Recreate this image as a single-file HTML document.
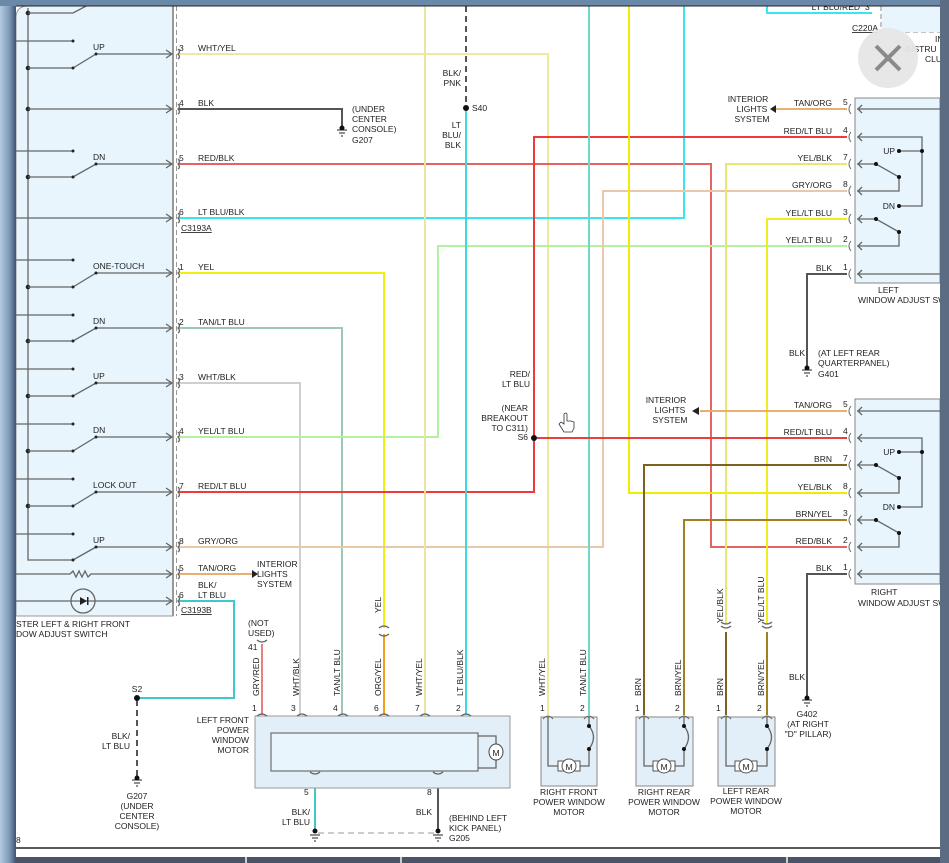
<!DOCTYPE html>
<html><head><meta charset="utf-8"><style>
html,body{margin:0;padding:0;background:#fff;}
svg{display:block;}
text{font-family:"Liberation Sans",Arial,sans-serif;font-size:8.5px;fill:#222;}
.r{text-anchor:end}.m{text-anchor:middle}
.w{fill:none;stroke-width:2}
.g{stroke:#666;stroke-width:1.3;fill:none}
</style></head><body>
<svg width="949" height="863" viewBox="0 0 949 863" xmlns="http://www.w3.org/2000/svg">
<defs>
<linearGradient id="lg" x1="0" x2="1"><stop offset="0" stop-color="#b4cce2"/><stop offset="0.6" stop-color="#7c98b6"/><stop offset="1" stop-color="#3e5470"/></linearGradient>
</defs>
<rect width="949" height="863" fill="#fff"/>
<!-- left switch box -->
<path d="M16,18 Q16,6 28,6 L173,6 L173,616 L16,616 Z" fill="#e8f5fd" stroke="#999"/>
<line x1="173" y1="6" x2="173" y2="616" stroke="#999" stroke-width="2"/>
<line x1="176.5" y1="6" x2="176.5" y2="616" stroke="#999" stroke-dasharray="5,3"/>
<!-- bus -->
<path class="g" d="M28,8 V560 H73"/>
<g fill="#222">
<circle cx="28" cy="13" r="2.3"/><circle cx="28" cy="68" r="2.3"/><circle cx="28" cy="109" r="2.3"/><circle cx="28" cy="177" r="2.3"/><circle cx="28" cy="287" r="2.3"/><circle cx="28" cy="341" r="2.3"/><circle cx="28" cy="396" r="2.3"/><circle cx="28" cy="451" r="2.3"/><circle cx="28" cy="506" r="2.3"/>
</g>
<!-- switch rows -->
<g class="g">
<path d="M28,13 H73 L90,4"/>
<path d="M16,41 H73 M28,68 H73 L96,54 H172 M166,50 L172,54 L166,58"/>
<path d="M28,109 H172 M166,105 L172,109 L166,113"/>
<path d="M16,151 H73 M28,177 H73 L96,164 H172 M166,160 L172,164 L166,168"/>
<path d="M16,218 H172 M166,214 L172,218 L166,222"/>
<path d="M16,260 H73 M28,287 H73 L96,273 H172 M166,269 L172,273 L166,277"/>
<path d="M16,315 H73 M28,341 H73 L96,328 H172 M166,324 L172,328 L166,332"/>
<path d="M16,369 H73 M28,396 H73 L96,383 H172 M166,379 L172,383 L166,387"/>
<path d="M16,424 H73 M28,451 H73 L96,437 H172 M166,433 L172,437 L166,441"/>
<path d="M16,479 H73 M28,506 H73 L96,492 H172 M166,488 L172,492 L166,496"/>
<path d="M16,534 H73 M96,547 H172 M73,560 L96,547 M166,543 L172,547 L166,551"/>
<path d="M16,574 H70 l3,-3 l3,6 l3,-6 l3,6 l3,-6 l3,6 l3,-3 H172 M166,570 L172,574 L166,578"/>
<path d="M16,601 H172 M166,597 L172,601 L166,605"/>
<circle cx="83" cy="601" r="12"/>
</g>
<g fill="#222"><circle cx="73" cy="41" r="1.5"/><circle cx="73" cy="68" r="1.5"/><circle cx="96" cy="54" r="1.5"/><circle cx="73" cy="151" r="1.5"/><circle cx="73" cy="177" r="1.5"/><circle cx="96" cy="164" r="1.5"/><circle cx="73" cy="260" r="1.5"/><circle cx="73" cy="287" r="1.5"/><circle cx="96" cy="273" r="1.5"/><circle cx="73" cy="315" r="1.5"/><circle cx="73" cy="341" r="1.5"/><circle cx="96" cy="328" r="1.5"/><circle cx="73" cy="369" r="1.5"/><circle cx="73" cy="396" r="1.5"/><circle cx="96" cy="383" r="1.5"/><circle cx="73" cy="424" r="1.5"/><circle cx="73" cy="451" r="1.5"/><circle cx="96" cy="437" r="1.5"/><circle cx="73" cy="479" r="1.5"/><circle cx="73" cy="506" r="1.5"/><circle cx="96" cy="492" r="1.5"/><circle cx="73" cy="534" r="1.5"/><circle cx="73" cy="560" r="1.5"/><circle cx="96" cy="547" r="1.5"/>
<path d="M80,597 L87,601 L80,605 Z"/><rect x="87" y="597" width="1.5" height="8"/></g>
<text x="93" y="50">UP</text><text x="93" y="160">DN</text><text x="93" y="269">ONE-TOUCH</text><text x="93" y="324">DN</text><text x="93" y="379">UP</text><text x="93" y="433">DN</text><text x="93" y="488">LOCK OUT</text><text x="93" y="543">UP</text>
<text x="16" y="627">STER LEFT &amp; RIGHT FRONT</text><text x="16" y="637">DOW ADJUST SWITCH</text>

<!-- wires -->
<g class="w">
<path stroke="#eeea9c" d="M178,54 H548 V715"/>
<path stroke="#555" d="M178,109 H342 V128"/>
<path stroke="#e46464" d="M178,164 H711 V547 H847"/>
<path stroke="#3ae6ee" d="M178,218 H684 V6"/>
<path stroke="#f2ee10" d="M178,273 H384 V628"/>
<path stroke="#f0a020" d="M384,634 V715"/>
<path stroke="#9cc8b4" d="M178,328 H342 V715"/>
<path stroke="#cfcfcf" d="M178,383 H300 V715"/>
<path stroke="#b4f0a0" d="M178,437 H438 V246 H847"/>
<path stroke="#f03a3a" d="M178,492 H534 V137 H847"/>
<path stroke="#e8c8a8" d="M178,547 H603 V191 H847"/>
<path stroke="#e8b070" d="M178,574 H252"/>
<path stroke="#40c8c8" d="M178,601 H234 V698 H140"/>
<path stroke="#e8e6a0" d="M425,6 V715"/>
<path stroke="#3ed8e0" d="M466,110 V715"/>
<path stroke="#70d8c8" d="M589,6 V715"/>
<path stroke="#f0ec00" d="M629,6 V493 H847"/>
<path stroke="#e8b070" d="M775,109 H847"/>
<path stroke="#e6e670" d="M847,164 H726 V624"/>
<path stroke="#f0ec20" d="M847,219 H767 V624"/>
<path stroke="#555" d="M847,274 H807 V368"/>
<path stroke="#e8b070" d="M700,411 H847"/>
<path stroke="#e84040" d="M537,438 H847"/>
<path stroke="#806020" d="M847,465 H644 V715"/>
<path stroke="#a08020" d="M847,520 H684 V715"/>
<path stroke="#555" d="M847,574 H807 V698"/>
<path stroke="#806020" d="M726,632 V715"/>
<path stroke="#a08020" d="M767,632 V715"/>
<path stroke="#e88080" d="M262,644 V715"/>
<path stroke="#3ae6ee" d="M767,0 V13 H872"/>
<path stroke="#40c8c8" d="M315,772 V830"/>
<path stroke="#555" d="M438,772 V830"/>
</g>
<line x1="466" y1="6" x2="466" y2="106" stroke="#555" stroke-width="2" stroke-dasharray="6,4"/>
<line x1="137" y1="700" x2="137" y2="778" stroke="#555" stroke-width="2" stroke-dasharray="6,4"/>
<line x1="318" y1="833" x2="435" y2="833" stroke="#999" stroke-dasharray="6,4"/>
<!-- arrows -->
<path d="M252,570 L258,574 L252,578 Z M770,109 L776,105 L776,113 Z M692,411 L699,407 L699,415 Z" fill="#222"/>
<!-- splices -->
<g fill="#111"><circle cx="466" cy="108" r="3"/><circle cx="534" cy="438" r="3"/><circle cx="137" cy="698" r="3"/></g>
<!-- grounds -->
<g stroke="#222" fill="none">
<path d="M337,130 h10 M339,133 h6 M341,136 h2"/><path d="M802,370 h10 M804,373 h6 M806,376 h2"/><path d="M802,700 h10 M804,703 h6 M806,706 h2"/><path d="M132,780 h10 M134,783 h6 M136,786 h2"/><path d="M310,835 h10 M312,838 h6 M314,841 h2"/><path d="M433,835 h10 M435,838 h6 M437,841 h2"/>
</g>
<g fill="#111"><circle cx="342" cy="128" r="2.5"/><circle cx="807" cy="368" r="2.5"/><circle cx="807" cy="698" r="2.5"/><circle cx="137" cy="778" r="2.5"/><circle cx="315" cy="831" r="2.5"/><circle cx="438" cy="831" r="2.5"/></g>
<!-- left connector marks -->
<g class="g" stroke-width="1">
<path d="M178,49 q3,3 0,5 q3,3 0,5 M178,104 q3,3 0,5 q3,3 0,5 M178,159 q3,3 0,5 q3,3 0,5 M178,213 q3,3 0,5 q3,3 0,5 M178,268 q3,3 0,5 q3,3 0,5 M178,323 q3,3 0,5 q3,3 0,5 M178,378 q3,3 0,5 q3,3 0,5 M178,432 q3,3 0,5 q3,3 0,5 M178,487 q3,3 0,5 q3,3 0,5 M178,542 q3,3 0,5 q3,3 0,5 M178,569 q3,3 0,5 q3,3 0,5 M178,596 q3,3 0,5 q3,3 0,5"/>
</g>
<g><text x="179" y="51">3</text><text x="179" y="106">4</text><text x="179" y="161">5</text><text x="179" y="215">6</text><text x="179" y="270">1</text><text x="179" y="325">2</text><text x="179" y="380">3</text><text x="179" y="434">4</text><text x="179" y="489">7</text><text x="179" y="544">8</text><text x="179" y="571">5</text><text x="179" y="598">6</text></g>
<g><text x="198" y="51">WHT/YEL</text><text x="198" y="106">BLK</text><text x="198" y="161">RED/BLK</text><text x="198" y="215">LT BLU/BLK</text><text x="198" y="270">YEL</text><text x="198" y="325">TAN/LT BLU</text><text x="198" y="380">WHT/BLK</text><text x="198" y="434">YEL/LT BLU</text><text x="198" y="489">RED/LT BLU</text><text x="198" y="544">GRY/ORG</text><text x="198" y="571">TAN/ORG</text><text x="198" y="588">BLK/</text><text x="198" y="598">LT BLU</text></g>
<text x="181" y="231" text-decoration="underline">C3193A</text><text x="181" y="613" text-decoration="underline">C3193B</text>
<text x="257" y="567">INTERIOR</text><text x="257" y="577">LIGHTS</text><text x="257" y="587">SYSTEM</text>
<text x="352" y="112">(UNDER</text><text x="352" y="122">CENTER</text><text x="352" y="132">CONSOLE)</text><text x="352" y="143">G207</text>
<text class="r" x="461" y="76">BLK/</text><text class="r" x="461" y="86">PNK</text><text x="472" y="111">S40</text><text class="r" x="461" y="128">LT</text><text class="r" x="461" y="138">BLU/</text><text class="r" x="461" y="148">BLK</text>
<text class="r" x="530" y="377">RED/</text><text class="r" x="530" y="387">LT BLU</text><text class="r" x="528" y="411">(NEAR</text><text class="r" x="528" y="421">BREAKOUT</text><text class="r" x="528" y="431">TO C311)</text><text class="r" x="528" y="440">S6</text>
<!-- hand cursor -->
<path d="M564,414 v10 l-3,-2 l-2,2 l5,8 h8 l2,-4 v-6 l-3,-1 -2,0 -2,0 v-7 q-1,-2 -3,0 z" fill="#fff" stroke="#333" stroke-width="0.8"/>
<!-- top right -->
<text class="r" x="860" y="10">LT BLU/RED</text><text x="865" y="10">3</text>
<text x="852" y="31" text-decoration="underline">C220A</text>
<line x1="881" y1="6" x2="881" y2="32" stroke="#888" stroke-dasharray="5,3"/><line x1="881" y1="32" x2="940" y2="32" stroke="#888" stroke-dasharray="5,3"/>
<rect x="882" y="6" width="58" height="26" fill="#e8f5fd"/>
<text x="935" y="42">INBO</text><text x="905" y="52">INSTRU</text><text x="925" y="62">CLU</text>
<circle cx="888" cy="58" r="30" fill="#e6e6e6" opacity="0.95"/>
<path d="M876,46 L900,70 M900,46 L876,70" stroke="#8a8a8a" stroke-width="4"/>
<!-- right switch boxes -->
<g>
<rect x="855" y="98" width="85" height="185" fill="#e8f5fd" stroke="#888"/>
<rect x="855" y="399" width="85" height="185" fill="#e8f5fd" stroke="#888"/>
<g class="g">
<path d="M857,109 H940 M857,137 H922 V206 H899 M899,151 H922 M857,164 H876 L899,177 V191 H857 M857,219 H876 L899,232 V246 H857 M857,274 H940"/>
<path d="M857,411 H940 M857,438 H922 V507 H899 M899,452 H922 M857,465 H876 L899,478 V493 H857 M857,520 H876 L899,533 V547 H857 M857,574 H940"/>
<path d="M862,105 l-4,4 l4,4 M862,133 l-4,4 l4,4 M862,160 l-4,4 l4,4 M862,187 l-4,4 l4,4 M862,215 l-4,4 l4,4 M862,242 l-4,4 l4,4 M862,270 l-4,4 l4,4"/>
<path d="M862,407 l-4,4 l4,4 M862,434 l-4,4 l4,4 M862,461 l-4,4 l4,4 M862,489 l-4,4 l4,4 M862,516 l-4,4 l4,4 M862,543 l-4,4 l4,4 M862,570 l-4,4 l4,4"/>
<path stroke-width="1" d="M851,104 q-4,5 0,10 M851,132 q-4,5 0,10 M851,159 q-4,5 0,10 M851,186 q-4,5 0,10 M851,214 q-4,5 0,10 M851,241 q-4,5 0,10 M851,269 q-4,5 0,10 M851,406 q-4,5 0,10 M851,433 q-4,5 0,10 M851,460 q-4,5 0,10 M851,488 q-4,5 0,10 M851,515 q-4,5 0,10 M851,542 q-4,5 0,10 M851,569 q-4,5 0,10"/>
</g>
<g fill="#111"><circle cx="899" cy="151" r="2"/><circle cx="922" cy="151" r="2"/><circle cx="899" cy="206" r="2"/><circle cx="876" cy="164" r="2"/><circle cx="899" cy="177" r="2"/><circle cx="876" cy="219" r="2"/><circle cx="899" cy="232" r="2"/>
<circle cx="899" cy="452" r="2"/><circle cx="922" cy="452" r="2"/><circle cx="899" cy="507" r="2"/><circle cx="876" cy="465" r="2"/><circle cx="899" cy="478" r="2"/><circle cx="876" cy="520" r="2"/><circle cx="899" cy="533" r="2"/></g>
<text class="r" x="895" y="154">UP</text><text class="r" x="895" y="209">DN</text><text class="r" x="895" y="455">UP</text><text class="r" x="895" y="510">DN</text>
<text x="878" y="293">LEFT</text><text x="858" y="303">WINDOW ADJUST SW</text>
<text x="871" y="595">RIGHT</text><text x="858" y="606">WINDOW ADJUST SW</text>
</g>
<g><text x="843" y="105">5</text><text x="843" y="133">4</text><text x="843" y="160">7</text><text x="843" y="187">8</text><text x="843" y="215">3</text><text x="843" y="242">2</text><text x="843" y="270">1</text>
<text x="843" y="407">5</text><text x="843" y="434">4</text><text x="843" y="461">7</text><text x="843" y="489">8</text><text x="843" y="516">3</text><text x="843" y="543">2</text><text x="843" y="570">1</text></g>
<g><text class="r" x="832" y="106">TAN/ORG</text><text class="r" x="832" y="134">RED/LT BLU</text><text class="r" x="832" y="161">YEL/BLK</text><text class="r" x="832" y="188">GRY/ORG</text><text class="r" x="832" y="216">YEL/LT BLU</text><text class="r" x="832" y="243">YEL/LT BLU</text><text class="r" x="832" y="271">BLK</text>
<text class="r" x="832" y="408">TAN/ORG</text><text class="r" x="832" y="435">RED/LT BLU</text><text class="r" x="832" y="462">BRN</text><text class="r" x="832" y="490">YEL/BLK</text><text class="r" x="832" y="517">BRN/YEL</text><text class="r" x="832" y="544">RED/BLK</text><text class="r" x="832" y="571">BLK</text></g>
<text class="m" x="748" y="102">INTERIOR</text><text class="m" x="752" y="112">LIGHTS</text><text class="m" x="752" y="122">SYSTEM</text>
<text class="m" x="666" y="403">INTERIOR</text><text class="m" x="670" y="413">LIGHTS</text><text class="m" x="670" y="423">SYSTEM</text>
<text x="789" y="356">BLK</text><text x="818" y="356">(AT LEFT REAR</text><text x="818" y="366">QUARTERPANEL)</text><text x="818" y="377">G401</text>
<text x="789" y="680">BLK</text><text class="m" x="807" y="717">G402</text><text class="m" x="808" y="727">(AT RIGHT</text><text class="m" x="808" y="737">"D" PILLAR)</text>
<!-- inline connectors -->
<g class="g" stroke-width="1"><path d="M721,622 q5,4 10,0 M721,626 q5,4 10,0 M762,622 q5,4 10,0 M762,626 q5,4 10,0 M379,628 q5,-4 10,0 M379,634 q5,4 10,0 M257,640 q5,4 10,0"/></g>
<g font-size="8"><text transform="translate(723,623) rotate(-90)">YEL/BLK</text><text transform="translate(764,623) rotate(-90)">YEL/LT BLU</text><text transform="translate(381,613) rotate(-90)">YEL</text></g>
<text x="248" y="626">(NOT</text><text x="248" y="636">USED)</text><text x="248" y="650">41</text>
<!-- LF motor -->
<rect x="255" y="716" width="255" height="72" fill="#e2eef8" stroke="#999"/>
<rect x="271" y="733" width="207" height="38" fill="#e8f5fd" stroke="#555"/>
<path class="g" d="M478,736 H496 V744 M478,768 H496 V760"/>
<ellipse cx="496" cy="752" rx="7" ry="8" fill="#fff" stroke="#444"/><text class="m" x="496" y="756" font-size="9">M</text>
<g class="g" stroke-width="1"><path d="M257,716 q5,-4 10,0 M297,716 q5,-4 10,0 M338,716 q5,-4 10,0 M379,716 q5,-4 10,0 M420,716 q5,-4 10,0 M461,716 q5,-4 10,0 M310,772 q5,4 10,0 M433,772 q5,4 10,0"/></g>
<g><text x="252" y="711">1</text><text x="291" y="711">3</text><text x="333" y="711">4</text><text x="374" y="711">6</text><text x="415" y="711">7</text><text x="456" y="711">2</text><text x="304" y="795">5</text><text x="427" y="795">8</text></g>
<g font-size="8"><text transform="translate(259,696) rotate(-90)">GRY/RED</text><text transform="translate(299,696) rotate(-90)">WHT/BLK</text><text transform="translate(340,696) rotate(-90)">TAN/LT BLU</text><text transform="translate(381,696) rotate(-90)">ORG/YEL</text><text transform="translate(422,696) rotate(-90)">WHT/YEL</text><text transform="translate(463,696) rotate(-90)">LT BLU/BLK</text>
<text transform="translate(545,696) rotate(-90)">WHT/YEL</text><text transform="translate(586,696) rotate(-90)">TAN/LT BLU</text><text transform="translate(641,696) rotate(-90)">BRN</text><text transform="translate(681,696) rotate(-90)">BRN/YEL</text><text transform="translate(723,696) rotate(-90)">BRN</text><text transform="translate(764,696) rotate(-90)">BRN/YEL</text></g>
<text class="r" x="249" y="723">LEFT FRONT</text><text class="r" x="249" y="733">POWER</text><text class="r" x="249" y="743">WINDOW</text><text class="r" x="249" y="753">MOTOR</text>
<text class="r" x="310" y="815">BLK/</text><text class="r" x="310" y="825">LT BLU</text><text class="r" x="432" y="815">BLK</text><text x="449" y="821">(BEHIND LEFT</text><text x="449" y="831">KICK PANEL)</text><text x="449" y="841">G205</text>
<text class="m" x="137" y="692">S2</text><text class="r" x="130" y="739">BLK/</text><text class="r" x="130" y="749">LT BLU</text>
<text class="m" x="137" y="799">G207</text><text class="m" x="137" y="809">(UNDER</text><text class="m" x="137" y="819">CENTER</text><text class="m" x="137" y="829">CONSOLE)</text>
<text x="16" y="843">8</text>
<!-- small motors -->
<g>
<rect x="541" y="717" width="56" height="69" fill="#e2eef8" stroke="#888"/>
<rect x="636" y="717" width="57" height="69" fill="#e2eef8" stroke="#888"/>
<rect x="718" y="717" width="57" height="69" fill="#e2eef8" stroke="#888"/>
<g class="g" stroke-width="1.2">
<path d="M548,717 V766 H562 M576,766 H589 V749 M589,717 V726 Q598,737 589,749"/>
<path d="M644,717 V766 H657 M671,766 H684 V749 M684,717 V726 Q693,737 684,749"/>
<path d="M726,717 V766 H740 M754,766 H767 V749 M767,717 V726 Q776,737 767,749"/>
<path stroke-width="1" d="M543,719 q5,-6 10,0 M584,719 q5,-6 10,0 M639,719 q5,-6 10,0 M679,719 q5,-6 10,0 M721,719 q5,-6 10,0 M762,719 q5,-6 10,0"/>
</g>
<g fill="#111"><circle cx="589" cy="726" r="2"/><circle cx="589" cy="749" r="2"/><circle cx="684" cy="726" r="2"/><circle cx="684" cy="749" r="2"/><circle cx="767" cy="726" r="2"/><circle cx="767" cy="749" r="2"/></g>
<g fill="#fff" stroke="#555"><rect x="558" y="761" width="22" height="10"/><circle cx="569" cy="766" r="7"/><rect x="653" y="761" width="22" height="10"/><circle cx="664" cy="766" r="7"/><rect x="735" y="761" width="22" height="10"/><circle cx="746" cy="766" r="7"/></g>
<text class="m" x="569" y="770" font-size="9" fill="#225">M</text><text class="m" x="664" y="770" font-size="9">M</text><text class="m" x="746" y="770" font-size="9">M</text>
<text x="540" y="711">1</text><text x="580" y="711">2</text><text x="635" y="711">1</text><text x="675" y="711">2</text><text x="716" y="711">1</text><text x="757" y="711">2</text>
<text class="m" x="569" y="795">RIGHT FRONT</text><text class="m" x="569" y="805">POWER WINDOW</text><text class="m" x="569" y="815">MOTOR</text>
<text class="m" x="664" y="795">RIGHT REAR</text><text class="m" x="664" y="805">POWER WINDOW</text><text class="m" x="664" y="815">MOTOR</text>
<text class="m" x="746" y="794">LEFT REAR</text><text class="m" x="746" y="804">POWER WINDOW</text><text class="m" x="746" y="814">MOTOR</text>
</g>
<!-- bottom -->
<line x1="16" y1="848" x2="940" y2="848" stroke="#222" stroke-width="1.5"/>
<rect x="16" y="857" width="924" height="6" fill="#4a5466"/>
<rect x="245" y="857" width="2" height="6" fill="#ccc"/><rect x="400" y="857" width="2" height="6" fill="#ccc"/><rect x="786" y="857" width="2" height="6" fill="#ccc"/>
<!-- frame -->
<rect x="0" y="0" width="16" height="863" fill="url(#lg)"/>
<rect x="0" y="0" width="949" height="6" fill="#6a88a8"/>
<line x1="16" y1="6" x2="940" y2="6" stroke="#222" stroke-width="1"/>
<rect x="940" y="0" width="9" height="863" fill="#5c6c82"/>
</svg>
</body></html>
